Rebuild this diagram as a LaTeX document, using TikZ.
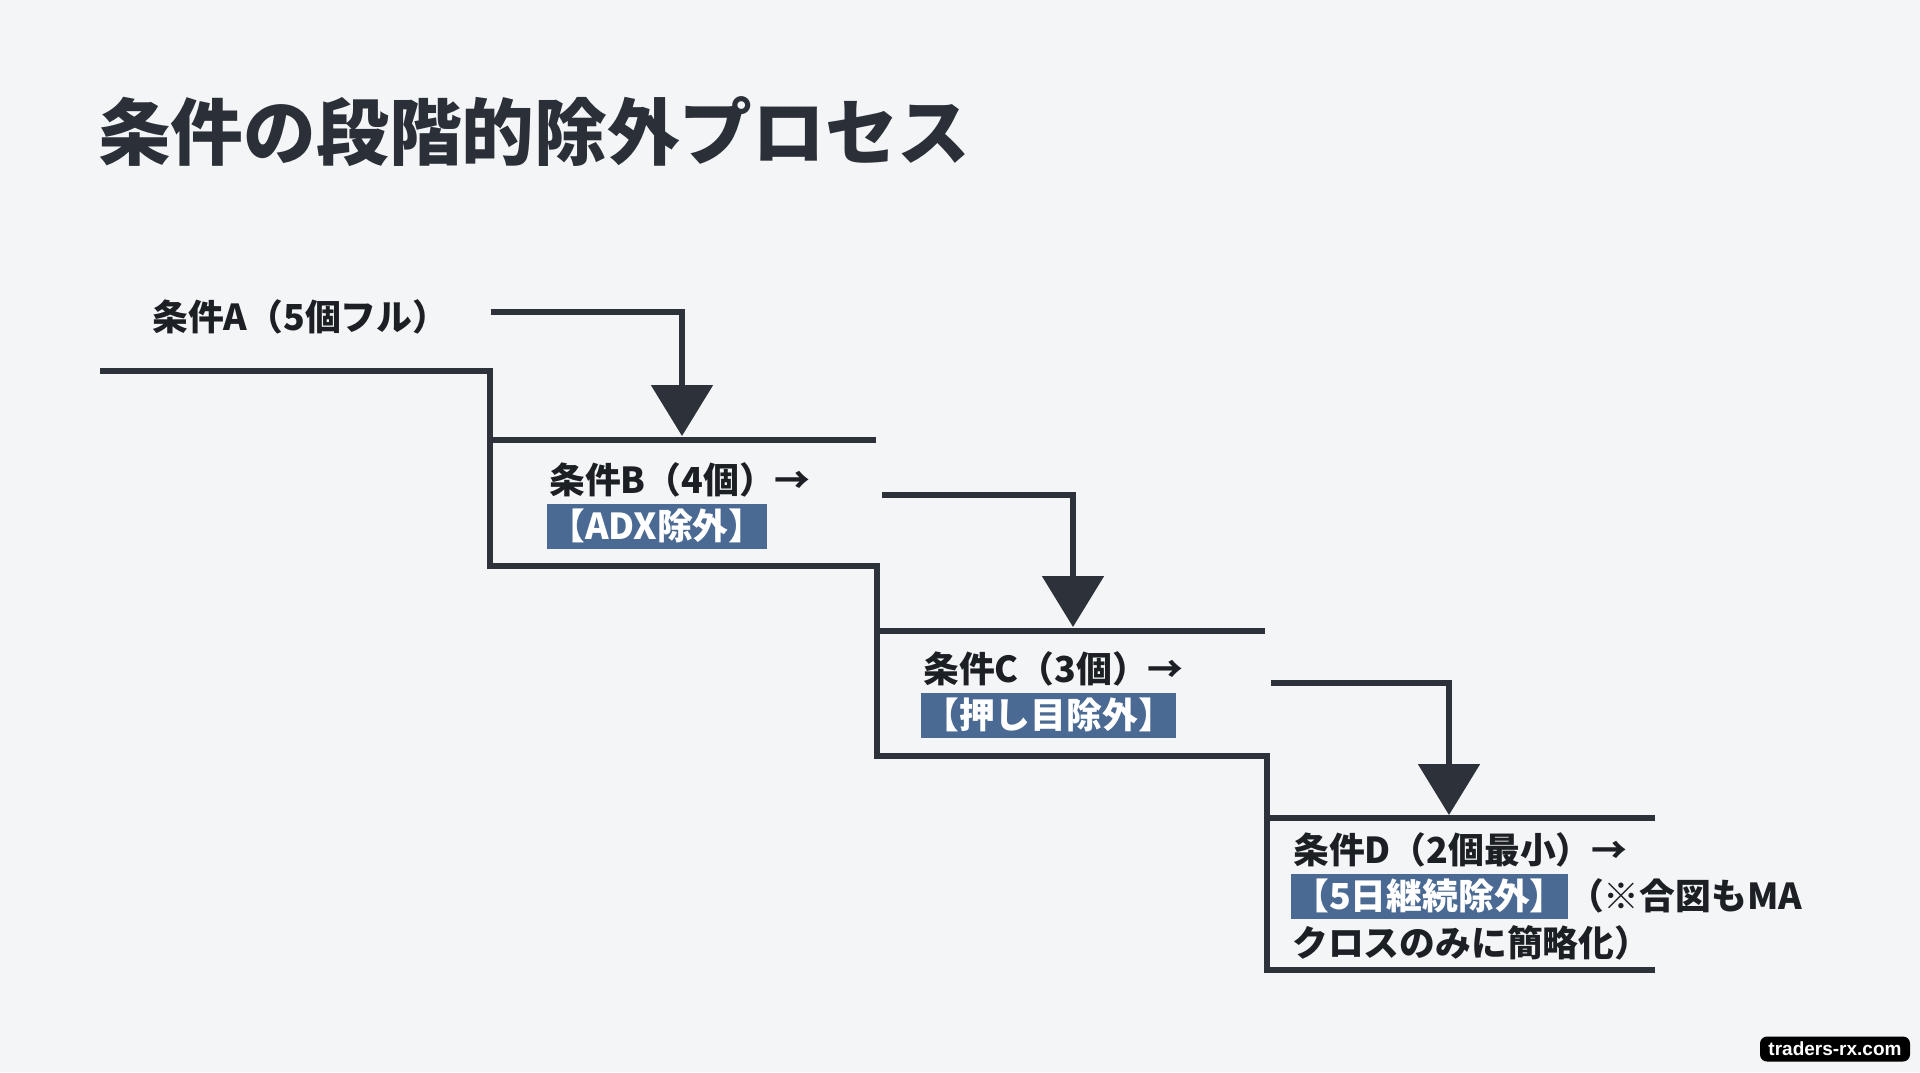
\documentclass[tikz,border=0pt]{standalone}
\usepackage{fontspec}
\setmainfont{Noto Sans CJK JP}
\newfontfamily\markfont{Liberation Sans}
\usetikzlibrary{arrows.meta, positioning}
\definecolor{PageBg}{RGB}{243, 245, 247}
\definecolor{StairInk}{RGB}{45, 50, 58}
\definecolor{TitleInk}{RGB}{43, 48, 56}
\definecolor{TextInk}{RGB}{28, 31, 36}
\definecolor{TagBlue}{RGB}{75, 106, 147}

\begin{document}
\begin{tikzpicture}[x=1pt, y=-1pt, >={Triangle[length=51pt, width=61pt]},
    stair/.style={line width=5.5pt, StairInk},
    flow/.style={->, line width=5.5pt, StairInk},
    lbl/.style={inner sep=0pt, anchor=west, text=TextInk, font=\fontsize{35.8}{42}\selectfont\bfseries},
    tagbox/.style={fill=TagBlue, text=white, inner xsep=2pt, inner ysep=0pt, minimum height=45pt, font=\fontsize{35.8}{42}\selectfont\bfseries}]
      % Background
      \path[fill=PageBg] (0,0) rectangle (1920,1072);

      % Title
      \node[anchor=west, inner sep=0pt, text=TitleInk, font=\fontsize{72.7}{86}\selectfont\bfseries] (title) at (98,132) {条件の段階的除外プロセス};

      % Steps
      \draw[stair] (100,371) -- (490,371) -- (490,566) -- (877,566) -- (877,756) -- (1267,756) -- (1267,970) -- (1655,970);
      \draw[stair] (490,440) -- (876,440);
      \draw[stair] (877,631) -- (1265,631);
      \draw[stair] (1267,818) -- (1655,818);

      % Labels
      \node[lbl] (labA) at (152,317) {条件A（5個フル）};

      \node[lbl] (labB) at (549,480) {条件B（4個）→};
      \node[tagbox, below right=6pt and -2pt of labB.south west] (tagB) {【ADX除外】};

      \node[lbl] (labC) at (923,669) {条件C（3個）→};
      \node[tagbox, below right=6pt and -2pt of labC.south west] (tagC) {【押し目除外】};

      \node[lbl] (labD) at (1293,850) {条件D（2個最小）→};
      \node[tagbox, below right=6pt and -2pt of labD.south west] (tagD) {【5日継続除外】};
      \node[lbl, right=0pt of tagD] (noteD) {（※合図もMA};
      \node[lbl, below right=6pt and 1pt of tagD.south west, anchor=north west] (noteD2) {クロスのみに簡略化）};

      % Arrows
      \coordinate (fromA) at (491,312);
      \coordinate (toB) at (682,436);
      \coordinate (fromB) at (882,495);
      \coordinate (toC) at (1073,627);
      \coordinate (fromC) at (1271,683);
      \coordinate (toD) at (1449,815);
      \draw[flow] (fromA) -| (toB);
      \draw[flow] (fromB) -| (toC);
      \draw[flow] (fromC) -| (toD);

      % Watermark
      \node[fill=black, rounded corners=7pt, text=white, inner sep=0pt, minimum width=150pt, minimum height=25pt, font=\markfont\bfseries\fontsize{19}{22}\selectfont] (mark) at (1835,1049) {traders-rx.com};
\end{tikzpicture}
\end{document}
